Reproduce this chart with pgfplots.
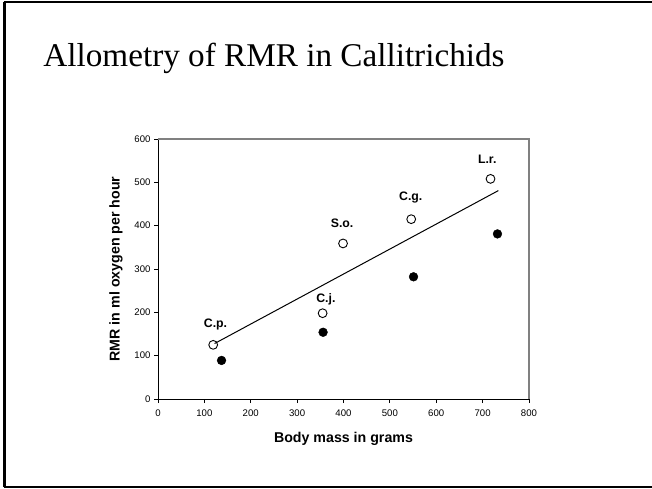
\documentclass[border=0pt]{standalone}
\usepackage{pgfplots}
\pgfplotsset{compat=1.18}
\usepackage{fontspec}
\setmainfont{Liberation Sans}
\newfontfamily\serifttl{Liberation Serif}
\begin{document}
\begin{tikzpicture}
\useasboundingbox (0pt,0pt) rectangle (652pt,488pt);
\draw[line width=2.5pt] (4.5pt,1pt) -- (4.5pt,486pt);
\draw[line width=2pt] (3.5pt,486pt) -- (652pt,486pt);
\draw[line width=2pt] (3.5pt,1pt) -- (652pt,1pt);
\node[anchor=base] at (274pt,421pt) {\serifttl\fontsize{33.2}{40}\selectfont Allometry of RMR in Callitrichids};
\begin{axis}[
  at={(158pt,89pt)}, anchor=south west,
  scale only axis, width=371pt, height=260pt,
  xmin=0, xmax=800, ymin=0, ymax=600,
  xtick distance=100, ytick distance=100,
  axis x line*=bottom, axis y line*=left,
  axis line style={line width=0.9pt, -},
  tick align=outside, major tick length=4pt,
  tick style={black, line width=0.8pt},
  tick label style={font=\fontsize{9.6}{11}\selectfont},
  xticklabel shift=3pt,
  /pgf/number format/assume math mode=true,
  xlabel={\bfseries Body mass in grams},
  ylabel={\bfseries RMR in ml oxygen per hour},
  xlabel shift=9pt, ylabel shift=5pt,
  label style={font=\fontsize{14.2}{16}\selectfont},
  clip=false,
]
\draw[gray, line width=1.6pt] (rel axis cs:0,1) -- (rel axis cs:1,1) -- (rel axis cs:1,0);
\addplot[black, line width=1pt] coordinates {(122,128) (734,481)};
\addplot[only marks, mark=o, mark size=4.4pt, mark options={line width=0.9pt, fill=white}] coordinates {
(119,125) (355,198) (399,359) (546,415) (717,508)};
\addplot[only marks, mark=*, mark size=4.4pt] coordinates {
(137,89) (356,154) (551,282) (732,381)};
\begin{scope}[every node/.style={font=\bfseries\fontsize{12.3}{14}\selectfont}]
\node at (axis cs:124,171) {C.p.};
\node at (axis cs:362,229) {C.j.};
\node at (axis cs:397,406) {S.o.};
\node at (axis cs:545,464) {C.g.};
\node at (axis cs:710,554) {L.r.};
\end{scope}
\end{axis}
\end{tikzpicture}
\end{document}
